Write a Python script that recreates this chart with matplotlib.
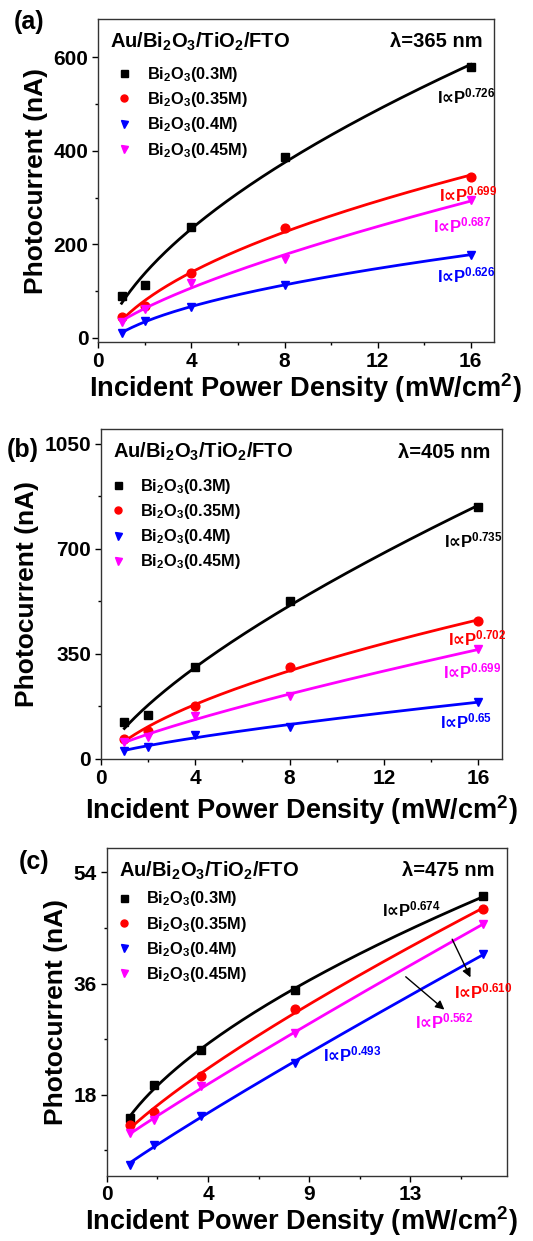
#!/usr/bin/env python

# Photocurrent vs incident power density for Au/Bi2O3/TiO2/FTO at three wavelengths,
# with power-law fits (y = a*P^m + b, least squares) drawn through each data set

import numpy as np
import matplotlib
matplotlib.use("Agg")
from matplotlib import pyplot as plt

plt.rcParams['font.family'] = ['Liberation Sans', 'DejaVu Sans']
plt.rcParams['font.weight'] = 'bold'
plt.rcParams['axes.labelweight'] = 'bold'
plt.rcParams['mathtext.default'] = 'regular'

# Incident power density (mW/cm2)
power = [1, 2, 4, 8, 16]

series_labels = ["Bi$_2$O$_3$(0.3M)", "Bi$_2$O$_3$(0.35M)", "Bi$_2$O$_3$(0.4M)", "Bi$_2$O$_3$(0.45M)"]
colors = ["black", "red", "blue", "magenta"]
markers = ["s", "o", "v", "v"]

# (a) 365 nm photocurrent (nA)
i365_03 = [89, 113, 236, 387, 580]
i365_035 = [45, 68, 139, 235, 345]
i365_04 = [10, 36, 66, 113, 178]
i365_045 = [34, 61, 118, 168, 295]
n365 = ["0.726", "0.699", "0.626", "0.687"]

# (b) 405 nm photocurrent (nA)
i405_03 = [123, 146, 307, 526, 840]
i405_035 = [68, 94, 178, 305, 460]
i405_04 = [28, 41, 80, 108, 191]
i405_045 = [58, 72, 144, 210, 366]
n405 = ["0.735", "0.702", "0.65", "0.699"]

# (c) 475 nm photocurrent (nA)
i475_03 = [14.2, 19.6, 25.3, 35.0, 50.2]
i475_035 = [13.1, 15.25, 21.1, 31.9, 48.1]
i475_04 = [6.7, 9.9, 14.6, 23.1, 40.8]
i475_045 = [11.8, 13.95, 19.35, 28.0, 45.7]
n475 = ["0.674", "0.610", "0.493", "0.562"]


def power_fit(x, y):
    # least squares y = a*x^m + b, scanning the exponent
    x = np.asarray(x, float)
    y = np.asarray(y, float)
    best = None
    for m in np.arange(0.2, 1.5, 0.002):
        u = x ** m
        a, b = np.polyfit(u, y, 1)
        err = np.sum((a * u + b - y) ** 2)
        if best is None or err < best[0]:
            best = (err, a, b, m)
    return best[1:]


def draw_panel(ax, currents, legend_xy):
    xs = np.linspace(power[0], power[-1], 200)
    for y, col, mk, lab in zip(currents, colors, markers, series_labels):
        a, b, m = power_fit(power, y)
        ax.plot(xs, a * xs ** m + b, color=col, lw=2)
        ax.plot(power, y, mk, color=col, ms=6.3, ls='none', label=lab)
    ax.set_xlim(0, 17)
    ax.tick_params(which='major', direction='out', length=4, width=1, labelsize=15, pad=3)
    ax.tick_params(which='minor', direction='out', length=2.5, width=1)
    for s in ax.spines.values():
        s.set_linewidth(1)
        s.set_color('#333333')
    ax.text(0.03, 0.93, "Au/Bi$_2$O$_3$/TiO$_2$/FTO", transform=ax.transAxes,
            fontsize=14.5, va='center', ha='left')
    ax.legend(loc='upper left', bbox_to_anchor=legend_xy, frameon=False, fontsize=11.8,
              handletextpad=0.65, labelspacing=0.38, handlelength=1.4, borderaxespad=0.2,
              markerscale=0.8)
    ax.set_xlabel("Incident Power Density (mW/cm$^2$)", fontsize=19.5, labelpad=0)
    ax.set_ylabel("Photocurrent (nA)", fontsize=19)


def law(n):
    return "I$\\mathbf{∝}$P$^{" + n + "}$"


fig = plt.figure(figsize=(5.33, 12.41), dpi=100)

# (a) 365 nm
ax1 = fig.add_axes([0.1845, 0.7244, 0.7424, 0.2603])
draw_panel(ax1, [i365_03, i365_035, i365_04, i365_045], (0.012, 0.888))
ax1.set_ylim(-9, 682)
ax1.set_xticks([0, 4, 8, 12, 16])
ax1.set_xticks([2, 6, 10, 14], minor=True)
ax1.set_yticks([0, 200, 400, 600])
ax1.set_yticks([100, 300, 500], minor=True)
ax1.xaxis.label.set_x(0.522)
ax1.text(0.97, 0.93, "λ=365 nm", transform=ax1.transAxes, fontsize=14.5, va='center', ha='right')
ax1.text(14.55, 516, law(n365[0]), color=colors[0], fontsize=12, va='center')
ax1.text(14.62, 306, law(n365[1]), color=colors[1], fontsize=12, va='center')
ax1.text(14.38, 241, law(n365[3]), color=colors[3], fontsize=12, va='center')
ax1.text(14.55, 134, law(n365[2]), color=colors[2], fontsize=12, va='center')
fig.text(0.025, 0.982, "(a)", fontsize=18, va='center', ha='left')

# (b) 405 nm
ax2 = fig.add_axes([0.189, 0.3884, 0.753, 0.2659])
draw_panel(ax2, [i405_03, i405_035, i405_04, i405_045], (-0.01, 0.885))
ax2.set_ylim(0, 1099)
ax2.set_xticks([0, 4, 8, 12, 16])
ax2.set_xticks([2, 6, 10, 14], minor=True)
ax2.set_yticks([0, 350, 700, 1050])
ax2.set_yticks([175, 525, 875], minor=True)
ax2.xaxis.labelpad = 4
ax2.text(0.97, 0.93, "λ=405 nm", transform=ax2.transAxes, fontsize=14.5, va='center', ha='right')
ax2.text(14.56, 729, law(n405[0]), color=colors[0], fontsize=12, va='center')
ax2.text(14.7, 402, law(n405[1]), color=colors[1], fontsize=12, va='center')
ax2.text(14.49, 291, law(n405[3]), color=colors[3], fontsize=12, va='center')
ax2.text(14.38, 124, law(n405[2]), color=colors[2], fontsize=12, va='center')
fig.text(0.012, 0.637, "(b)", fontsize=18, va='center', ha='left')

# (c) 475 nm
ax3 = fig.add_axes([0.2002, 0.0526, 0.751, 0.2643])
draw_panel(ax3, [i475_03, i475_035, i475_04, i475_045], (-0.01, 0.903))
ax3.set_ylim(4.9, 58)
ax3.set_xticks([0, 4.3, 8.6, 12.9])
ax3.set_xticklabels(["0", "4", "9", "13"])
ax3.set_xticks([2.15, 6.45, 10.75, 15.05], minor=True)
ax3.set_yticks([18, 36, 54])
ax3.set_yticks([9, 27, 45], minor=True)
ax3.xaxis.label.set_x(0.485)
ax3.text(0.97, 0.93, "λ=475 nm", transform=ax3.transAxes, fontsize=14.5, va='center', ha='right')
ax3.text(11.7, 48, law(n475[0]), color=colors[0], fontsize=12, va='center')
ax3.text(14.76, 34.7, law(n475[1]), color=colors[1], fontsize=12, va='center')
ax3.text(13.1, 29.9, law(n475[3]), color=colors[3], fontsize=12, va='center')
ax3.text(9.17, 24.5, law(n475[2]), color=colors[2], fontsize=12, va='center')
ax3.annotate("", xy=(15.5, 36.6), xytext=(14.62, 43.6),
             arrowprops=dict(arrowstyle='-|>', color='black', lw=1, mutation_scale=13))
ax3.annotate("", xy=(14.43, 31.5), xytext=(12.61, 37.4),
             arrowprops=dict(arrowstyle='-|>', color='black', lw=1, mutation_scale=13))
fig.text(0.035, 0.305, "(c)", fontsize=18, va='center', ha='left')

fig.savefig("out.png", dpi=100)
